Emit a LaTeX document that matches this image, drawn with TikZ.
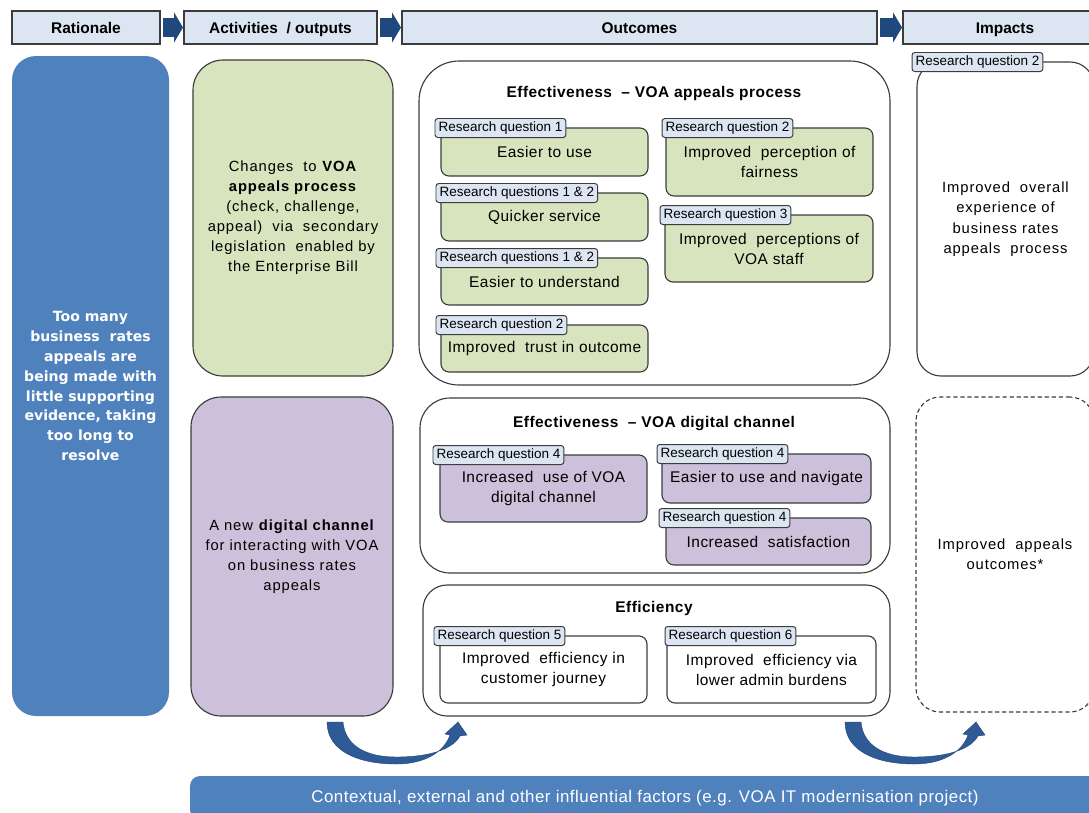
\documentclass[tikz,border=0pt]{standalone}
\usepackage{fontspec}
\setmainfont{Liberation Sans}
\newfontfamily\wide[LetterSpace=3]{Liberation Sans}
\newfontfamily\wider[LetterSpace=6]{Liberation Sans}
\newfontfamily\verd{DejaVu Sans}
\usepackage{tikz}
\usetikzlibrary{arrows.meta,calc,positioning}
\definecolor{hdr}{RGB}{220,230,242}
\definecolor{navy}{RGB}{31,73,125}
\definecolor{swoopblue}{RGB}{46,90,150}
\definecolor{midblue}{RGB}{79,129,189}
\definecolor{actgreen}{RGB}{215,228,189}
\definecolor{actpurple}{RGB}{204,192,218}
\definecolor{edge}{RGB}{60,60,60}

\begin{document}
\begin{tikzpicture}[x=0.025cm, y=-0.025cm,
    wh/.style 2 args={minimum width=#1*0.025cm, minimum height=#2*0.025cm},
    base/.style={inner sep=0pt, outer sep=0pt, align=center},
    head/.style={base, draw=edge, line width=0.8pt, fill=hdr, text height=1.8ex, text depth=0.25ex, font=\bfseries\fontsize{11}{13}\selectfont},
    hop/.style={draw=navy, line width=13pt, -{Triangle[length=6.4pt, width=21.3pt]}, shorten <=2.1pt, shorten >=0.7pt},
    act/.style={base, draw=edge, line width=0.8pt, rounded corners=0.75cm, font=\wider\fontsize{10.5}{14.2}\selectfont},
    group/.style={base, draw=edge, line width=0.8pt, rounded corners=1cm},
    ttl/.style={base, text height=1.8ex, text depth=0.25ex, font=\wide\bfseries\fontsize{11}{12}\selectfont},
    ibox/.style={base, draw=edge, line width=0.8pt, rounded corners=0.2cm, font=\wide\fontsize{11}{14.2}\selectfont},
    tag/.style={base, draw=edge, line width=0.7pt, fill=hdr, rounded corners=2pt, inner xsep=2.5pt, minimum height=0.475cm, anchor=west, font=\fontsize{9.6}{10}\selectfont},
    impact/.style={base, draw=edge, line width=0.8pt, rounded corners=0.6cm, font=\wider\fontsize{10.5}{14.5}\selectfont},
    swoop/.style={fill=swoopblue, draw=swoopblue!80!black, line width=0.3pt}]
    \useasboundingbox (0,0) rectangle (1089,812);
    \clip (0,0) rectangle (1089,812);

    \node (hR) [head, wh={148}{33}] at (86,27.5) {Rationale};
    \node (hA) [head, wh={193}{33}] at (280.5,27.5) {Activities\ \ / outputs};
    \node (hO) [head, wh={475}{33}] at (639.5,27.5) {Outcomes};
    \node (hI) [head, wh={204}{33}] at (1005,27.5) {Impacts};
    \draw[hop] (hR) -- (hA);
    \draw[hop] (hA) -- (hO);
    \draw[hop] (hO) -- (hI);

    \node (R) [base, fill=midblue, rounded corners=0.6cm, wh={157}{660}, text=white,
        font=\verd\bfseries\fontsize{10}{14.2}\selectfont] at (90.5,386)
        {Too many\\business\ \ rates\\appeals are\\being made with\\little supporting\\evidence, taking\\too long to\\resolve};

    \node (AP) [act, fill=actgreen, wh={200}{316}] at (293,218)
        {Changes\ \ to \textbf{VOA}\\\textbf{appeals process}\\(check, challenge,\\appeal)\ \ via\ \ secondary\\legislation\ \ enabled by\\the Enterprise Bill};
    \node (DC) [act, fill=actpurple, wh={202}{319}] at (292,556.5)
        {A new \textbf{digital channel}\\for interacting with VOA\\on business rates\\appeals};

    \node (O1) [group, wh={471}{324}] at (654.5,223) {};
    \node (O2) [group, rounded corners=0.75cm, wh={470}{175}] at (655,485.5) {};
    \node (O3) [group, rounded corners=0.6cm, wh={467}{131}] at (656.5,650.5) {};
    \node (T1) [ttl] at (654,92) {Effectiveness\ \ – VOA appeals process};
    \node (T2) [ttl] at (654,422) {Effectiveness\ \ – VOA digital channel};
    \node (T3) [ttl] at (654,607) {Efficiency};

    \node (G1) [ibox, fill=actgreen, wh={207}{48}] at (544.5,152) {Easier to use};
    \node (G2) [ibox, fill=actgreen, wh={207}{48}] at (544.5,217) {Quicker service};
    \node (G3) [ibox, fill=actgreen, wh={207}{47}] at (544.5,281.5) {Easier to understand};
    \node (G4) [ibox, fill=actgreen, wh={207}{47}] at (544.5,348.5) {Improved\ \ trust in outcome};
    \node (G5) [ibox, fill=actgreen, wh={207}{68}] at (769.5,162) {Improved\ \ perception of\\fairness};
    \node (G6) [ibox, fill=actgreen, wh={208}{67}] at (769,248.5) {Improved\ \ perceptions of\\VOA staff};
    \node (P1) [ibox, fill=actpurple, wh={207}{67}] at (543.5,488.5) {Increased\ \ use of VOA\\digital channel};
    \node (P2) [ibox, fill=actpurple, wh={209}{49}] at (766.5,478.5) {Easier to use and navigate};
    \node (P3) [ibox, fill=actpurple, wh={205}{47}] at (768.5,541.5) {Increased\ \ satisfaction};
    \node (W1) [ibox, fill=white, wh={207}{67}] at (543.5,669.5) {Improved\ \ efficiency in\\customer journey};
    \node (W2) [ibox, fill=white, wh={209}{67}] at (771.5,669.5) {Improved\ \ efficiency via\\lower admin burdens};

    \node (q1) [tag] at ($(G1.north west)+(-6,0)$) {Research question 1};
    \node (q2) [tag] at ($(G2.north west)+(-5,0)$) {Research questions 1 \& 2};
    \node (q3) [tag] at ($(G3.north west)+(-5,0)$) {Research questions 1 \& 2};
    \node (q4) [tag] at ($(G4.north west)+(-5,0)$) {Research question 2};
    \node (q5) [tag] at ($(G5.north west)+(-4,0)$) {Research question 2};
    \node (q6) [tag] at ($(G6.north west)+(-5,0)$) {Research question 3};
    \node (q7) [tag] at ($(P1.north west)+(-7,0)$) {Research question 4};
    \node (q8) [tag] at ($(P2.north west)+(-5,0)$) {Research question 4};
    \node (q9) [tag] at ($(P3.north west)+(-7,0)$) {Research question 4};
    \node (q10) [tag] at ($(W1.north west)+(-6,0)$) {Research question 5};
    \node (q11) [tag] at ($(W2.north west)+(-2,0)$) {Research question 6};

    \node (I1) [impact, wh={177}{314}] at (1005.5,219)
        {Improved\ \ overall\\experience of\\business rates\\appeals\ \ process};
    \node (I2) [impact, dash pattern=on 3pt off 2pt, wh={178}{315}] at (1005,554.5)
        {Improved\ \ appeals\\outcomes*};
    \node (q12) [tag] at ($(I1.north west)+(-5,0)$) {Research question 2};

    \foreach \dx in {0,518} {
        \fill[swoop, xshift=\dx*0.025cm] (327,722) .. controls (327,752) and (360,764) .. (396,764)
            .. controls (425,764) and (444,752) .. (450,735) -- (445,734) -- (458,722) -- (467,735)
            -- (460,736) .. controls (452,750) and (428,757) .. (396,757)
            .. controls (365,757) and (345,745) .. (343,722) -- cycle;
    }

    \node (F) [base, fill=midblue, rounded corners=0.25cm, wh={910}{44}, text=white,
        font=\wide\fontsize{12}{14}\selectfont] at (645,798)
        {Contextual, external and other influential factors (e.g. VOA IT modernisation project)};
\end{tikzpicture}
\end{document}
